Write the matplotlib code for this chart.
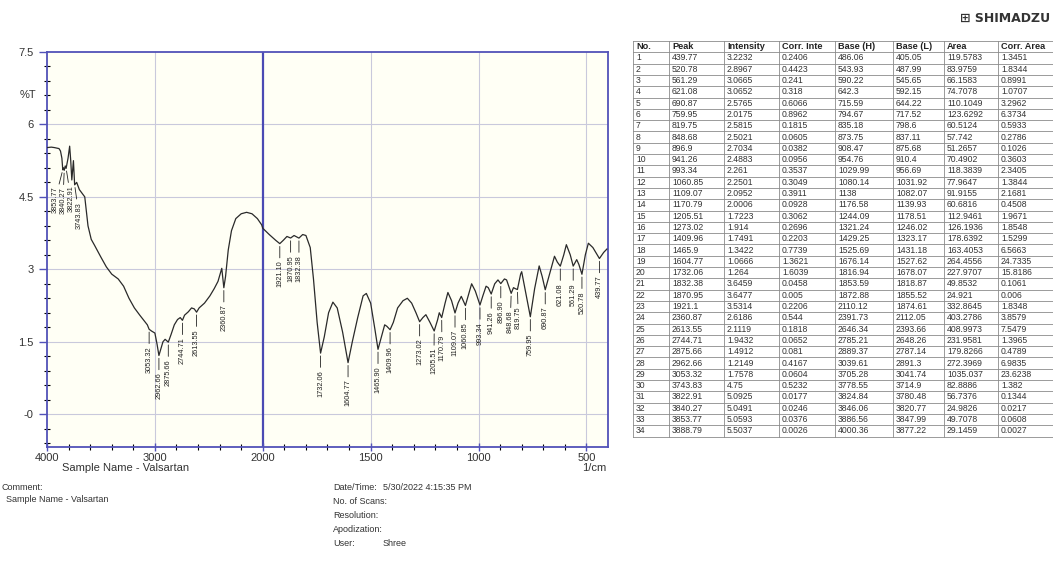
import numpy as np
import matplotlib
matplotlib.use('Agg')
import matplotlib.pyplot as plt

plt.rcParams['font.family'] = ['Liberation Sans', 'DejaVu Sans']

# spectrum vertices (wavenumber 1/cm, %T)
wn = [4000, 3960, 3930, 3888.79, 3875, 3862, 3853.77, 3847, 3840.27, 3831, 3822.91,
      3805, 3790, 3780, 3770, 3755, 3743.83, 3725, 3700, 3650, 3620, 3590, 3560,
      3500, 3450, 3400, 3340, 3290, 3240, 3190, 3140, 3095, 3070, 3053.32, 3030,
      3000, 2980, 2962.66, 2945, 2925, 2905, 2875.66, 2850, 2820, 2790, 2765,
      2744.71, 2725, 2690, 2660, 2635, 2613.55, 2590, 2540, 2490, 2450, 2415,
      2380, 2360.87, 2345, 2320, 2290, 2250, 2200, 2150, 2100, 2050, 2010, 2000,
      1970, 1940, 1921.1, 1905, 1888, 1870.95, 1855, 1832.38, 1815, 1800, 1780,
      1765, 1748, 1732.06, 1715, 1695, 1675, 1655, 1630, 1604.77, 1585, 1560,
      1535, 1520, 1500, 1480, 1465.9, 1450, 1435, 1425, 1409.96, 1395, 1375,
      1350, 1330, 1310, 1290, 1273.02, 1258, 1244, 1225, 1205.51, 1190, 1182,
      1170.79, 1155, 1142, 1125, 1109.07, 1095, 1080, 1060.85, 1045, 1032, 1015,
      993.34, 980, 965, 955, 941.26, 925, 910, 896.9, 880, 870, 848.68, 838, 830,
      819.75, 805, 800, 785, 759.95, 740, 719, 705, 690.87, 665, 648, 635, 621.08,
      605, 593, 575, 561.29, 545, 535, 520.78, 505, 491, 470, 439.77, 420, 405]
pt = [5.52, 5.53, 5.52, 5.50, 5.45, 5.30, 5.06, 5.10, 5.05, 5.14, 5.09,
      5.30, 5.55, 5.25, 4.85, 5.25, 4.75, 4.80, 4.65, 4.50, 3.90, 3.62, 3.50,
      3.25, 3.05, 2.90, 2.80, 2.65, 2.40, 2.20, 2.05, 1.92, 1.85, 1.7578, 1.72,
      1.68, 1.45, 1.2149, 1.35, 1.50, 1.55, 1.4912, 1.65, 1.85, 1.96, 2.00,
      1.9432, 2.05, 2.12, 2.20, 2.18, 2.1119, 2.20, 2.30, 2.45, 2.60, 2.75,
      3.02, 2.6186, 2.85, 3.40, 3.80, 4.05, 4.15, 4.18, 4.15, 4.05, 3.92, 3.85,
      3.72, 3.60, 3.5314, 3.60, 3.68, 3.6477, 3.70, 3.6459, 3.72, 3.70, 3.45,
      2.80, 1.90, 1.264, 1.60, 2.10, 2.32, 2.20, 1.70, 1.0666, 1.50, 2.00,
      2.45, 2.50, 2.30, 1.75, 1.3422, 1.60, 1.85, 1.82, 1.7491, 1.90, 2.20,
      2.35, 2.40, 2.30, 2.10, 1.914, 2.00, 2.06, 1.90, 1.7223, 1.95, 2.10,
      2.0006, 2.30, 2.52, 2.35, 2.0952, 2.30, 2.44, 2.2501, 2.50, 2.70, 2.55,
      2.261, 2.45, 2.65, 2.62, 2.4883, 2.70, 2.78, 2.7034, 2.80, 2.78, 2.5021, 2.62, 2.60,
      2.5815, 2.90, 2.95, 2.60, 2.0175, 2.60, 3.07, 2.85, 2.5765, 3.00, 3.27, 3.15, 3.0652,
      3.30, 3.51, 3.30, 3.0665, 3.20, 3.10, 2.8967, 3.30, 3.54, 3.45, 3.2232, 3.35, 3.42]

# peak table
peak_no = list(range(1, 35))
peak = [439.77, 520.78, 561.29, 621.08, 690.87, 759.95, 819.75, 848.68, 896.9, 941.26,
        993.34, 1060.85, 1109.07, 1170.79, 1205.51, 1273.02, 1409.96, 1465.9, 1604.77,
        1732.06, 1832.38, 1870.95, 1921.1, 2360.87, 2613.55, 2744.71, 2875.66, 2962.66,
        3053.32, 3743.83, 3822.91, 3840.27, 3853.77, 3888.79]
intensity = [3.2232, 2.8967, 3.0665, 3.0652, 2.5765, 2.0175, 2.5815, 2.5021, 2.7034, 2.4883,
             2.261, 2.2501, 2.0952, 2.0006, 1.7223, 1.914, 1.7491, 1.3422, 1.0666,
             1.264, 3.6459, 3.6477, 3.5314, 2.6186, 2.1119, 1.9432, 1.4912, 1.2149,
             1.7578, 4.75, 5.0925, 5.0491, 5.0593, 5.5037]
corr_int = [0.2406, 0.4423, 0.241, 0.318, 0.6066, 0.8962, 0.1815, 0.0605, 0.0382, 0.0956,
            0.3537, 0.3049, 0.3911, 0.0928, 0.3062, 0.2696, 0.2203, 0.7739, 1.3621,
            1.6039, 0.0458, 0.005, 0.2206, 0.544, 0.1818, 0.0652, 0.081, 0.4167,
            0.0604, 0.5232, 0.0177, 0.0246, 0.0376, 0.0026]
base_h = [486.06, 543.93, 590.22, 642.3, 715.59, 794.67, 835.18, 873.75, 908.47, 954.76,
          1029.99, 1080.14, 1138, 1176.58, 1244.09, 1321.24, 1429.25, 1525.69, 1676.14,
          1816.94, 1853.59, 1872.88, 2110.12, 2391.73, 2646.34, 2785.21, 2889.37, 3039.61,
          3705.28, 3778.55, 3824.84, 3846.06, 3886.56, 4000.36]
base_l = [405.05, 487.99, 545.65, 592.15, 644.22, 717.52, 798.6, 837.11, 875.68, 910.4,
          956.69, 1031.92, 1082.07, 1139.93, 1178.51, 1246.02, 1323.17, 1431.18, 1527.62,
          1678.07, 1818.87, 1855.52, 1874.61, 2112.05, 2393.66, 2648.26, 2787.14, 2891.3,
          3041.74, 3714.9, 3780.48, 3820.77, 3847.99, 3877.22]
area = [119.5783, 83.9759, 66.1583, 74.7078, 110.1049, 123.6292, 60.5124, 57.742, 51.2657, 70.4902,
        118.3839, 77.9647, 91.9155, 60.6816, 112.9461, 126.1936, 178.6392, 163.4053, 264.4556,
        227.9707, 49.8532, 24.921, 332.8645, 403.2786, 408.9973, 231.9581, 179.8266, 272.3969,
        1035.037, 82.8886, 56.7376, 24.9826, 49.7078, 29.1459]
corr_area = [1.3451, 1.8344, 0.8991, 1.0707, 3.2962, 6.3734, 0.5933, 0.2786, 0.1026, 0.3603,
             2.3405, 1.3844, 2.1681, 0.4508, 1.9671, 1.8548, 1.5299, 6.5663, 24.7335,
             15.8186, 0.1061, 0.006, 1.8348, 3.8579, 7.5479, 1.3965, 0.4789, 6.9835,
             23.6238, 1.382, 0.1344, 0.0217, 0.0608, 0.0027]
headers = ['No.', 'Peak', 'Intensity', 'Corr. Inte', 'Base (H)', 'Base (L)', 'Area', 'Corr. Area']
labelled = peak[:33]

W, H = 1053, 576
fig = plt.figure(figsize=(W / 100, H / 100), dpi=100)

def px(x0, y0, x1, y1):
    return [x0 / W, 1 - y1 / H, (x1 - x0) / W, (y1 - y0) / H]

frame = '#5252b8'
ax = fig.add_axes(px(47, 52, 608, 447))
ax.set_facecolor('#fffff5')

def fwd(w):
    w = np.asarray(w, dtype=float)
    return np.where(w > 2000, 2000 + (w - 2000) / 2, w)

def inv(u):
    u = np.asarray(u, dtype=float)
    return np.where(u > 2000, 2000 + (u - 2000) * 2, u)

ax.set_xscale('function', functions=(fwd, inv))
ax.set_xlim(4000, 400)
ax.set_ylim(-0.68, 7.5)

ax.set_xticks([4000, 3000, 2000, 1500, 1000, 500])
ax.set_xticks(list(range(3800, 2000, -200)) + [m for m in range(1900, 400, -100) if m % 500], minor=True)
ax.set_yticks([7.5, 6, 4.5, 3, 1.5, 0])
ax.set_yticklabels(['7.5', '6', '4.5', '3', '1.5', '-0'])
ax.set_yticks(np.arange(-0.6, 7.5, 0.3), minor=True)
ax.tick_params(colors=frame, labelcolor='#333333', labelsize=8)
ax.tick_params(axis='y', which='major', direction='out', length=6, width=1)
ax.tick_params(axis='y', which='minor', direction='inout', length=4, width=0.8)
ax.tick_params(axis='x', which='major', direction='inout', length=6, width=1, pad=1)
ax.tick_params(axis='x', which='minor', direction='inout', length=5, width=0.8)
for s in ax.spines.values():
    s.set_color(frame)
    s.set_linewidth(1.3)
for g in [3000, 1500, 1000, 500]:
    ax.axvline(g, color='#c9c9dc', lw=0.8, zorder=0)
for g in [6, 4.5, 3, 1.5, 0]:
    ax.axhline(g, color='#c9c9dc', lw=0.8, zorder=0)
ax.axvline(2000, color='#4a4ab4', lw=1.6, zorder=1)

ax.plot(wn, pt, color='#2a2a2a', lw=0.9, zorder=3)

fig.text(36 / W, 1 - 95 / H, '%T', ha='right', va='center', fontsize=8, color='#333333')
fig.text(62 / W, 1 - 468 / H, 'Sample Name - Valsartan', fontsize=8, color='#333333', va='center')
fig.text(606 / W, 1 - 468 / H, '1/cm', fontsize=8, color='#333333', va='center', ha='right')

# peak labels, spread horizontally where crowded
fig.canvas.draw()
tr = ax.transData
pk_i = [peak.index(p) for p in labelled]
pos = np.array([tr.transform((p, intensity[i])) for p, i in zip(labelled, pk_i)])
order = np.argsort(pos[:, 0])
lx = pos[order, 0].copy()
gap = 8.0
for _ in range(200):
    for k in range(1, len(lx)):
        d = lx[k] - lx[k - 1]
        if d < gap:
            lx[k - 1] -= (gap - d) / 2
            lx[k] += (gap - d) / 2
for k, o in enumerate(order):
    p = labelled[o]
    ax.annotate(f'{p:.2f}', xy=(p, intensity[pk_i[o]]),
                xytext=(lx[k] - pos[o, 0], -17), textcoords='offset pixels',
                rotation=90, ha='center', va='top', fontsize=5.3, color='#222222',
                arrowprops=dict(arrowstyle='-', lw=0.6, color='#222222', shrinkA=0, shrinkB=2),
                zorder=4)

# peak table
cols = [633, 669, 724, 779, 835, 893, 944, 998, 1070]
top, rh = 41, 11.3
nrow = len(peak_no) + 1
tax = fig.add_axes(px(630, 38, 1053, 445))
tax.set_xlim(630, 1053)
tax.set_ylim(445, 38)
tax.axis('off')
bottom = top + rh * nrow
for c in cols:
    tax.plot([c, c], [top, bottom], color='#8a8a8a', lw=0.6)
for r in range(nrow + 1):
    tax.plot([cols[0], cols[-1]], [top + r * rh] * 2, color='#8a8a8a', lw=0.6)
for j, h in enumerate(headers):
    t = tax.text(cols[j] + 3, top + rh / 2, h, fontsize=6.6, fontweight='bold',
                 va='center', ha='left', color='#222222')
    t.set_clip_on(True)
table_cols = [peak_no, peak, intensity, corr_int, base_h, base_l, area, corr_area]
for i in range(len(peak_no)):
    y = top + rh * (i + 1.5)
    for j, col in enumerate(table_cols):
        tax.text(cols[j] + 3, y, str(col[i]), fontsize=6.2, va='center', ha='left', color='#333333')

fig.text(1050 / W, 1 - 18 / H, '\u229e SHIMADZU', fontsize=9, fontweight='bold',
         family='DejaVu Sans', ha='right', va='center', color='#333333')

# footer
fs = 6.5
fig.text(2 / W, 1 - 487 / H, 'Comment:', fontsize=fs, color='#333333', va='center')
fig.text(6 / W, 1 - 499 / H, 'Sample Name - Valsartan', fontsize=fs, color='#333333', va='center')
for k, (a, b) in enumerate([('Date/Time:', '5/30/2022 4:15:35 PM'), ('No. of Scans:', ''),
                            ('Resolution:', ''), ('Apodization:', ''), ('User:', 'Shree')]):
    y = 1 - (487 + 14 * k) / H
    fig.text(333 / W, y, a, fontsize=fs, color='#333333', va='center')
    fig.text(383 / W, y, b, fontsize=fs, color='#333333', va='center')

fig.savefig('out.png', dpi=100)
